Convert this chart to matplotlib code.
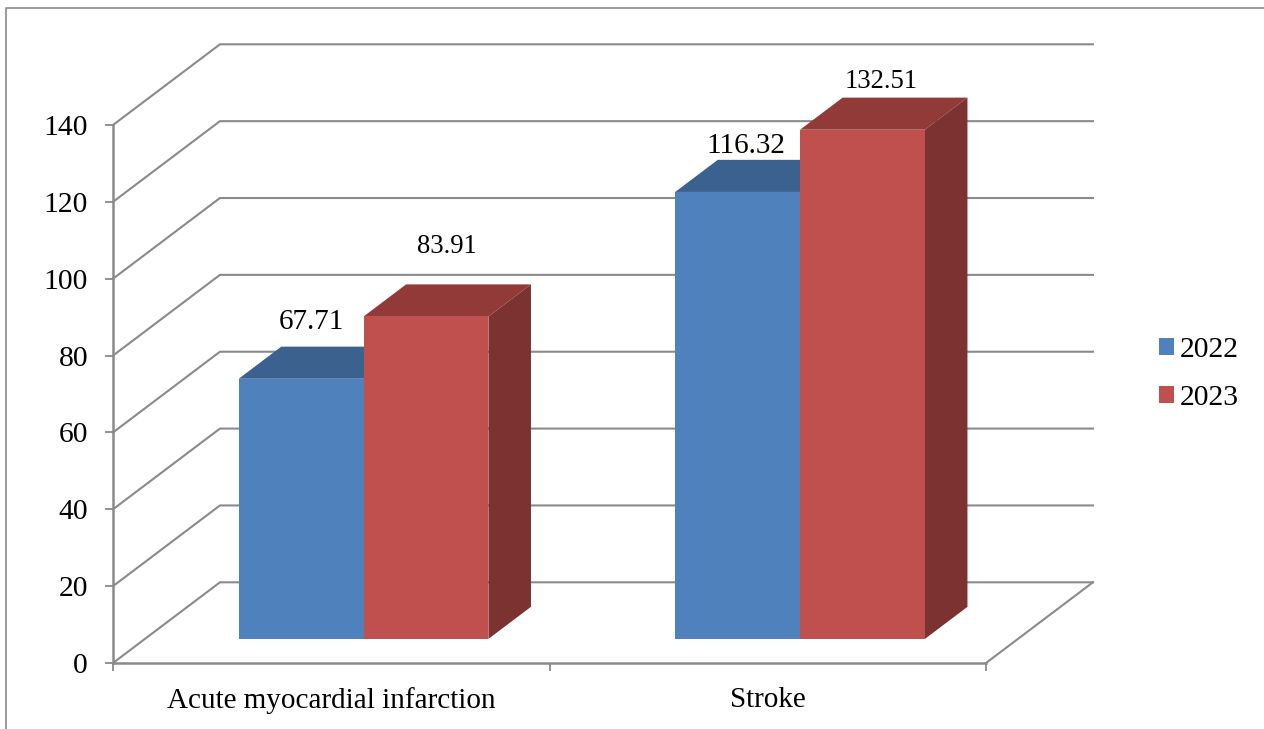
#!/usr/bin/env python3
# -*- coding: utf-8 -*-

import matplotlib
matplotlib.use("Agg")
import matplotlib.pyplot as plt
from matplotlib.lines import Line2D
from matplotlib.patches import Polygon

plt.rcParams['font.family'] = ['Liberation Serif', 'DejaVu Serif']

# Data

categories = ["Acute myocardial infarction", "Stroke"]
years = ["2022", "2023"]
values_2022 = [67.71, 116.32]
values_2023 = [83.91, 132.51]
y_ticks = [0, 20, 40, 60, 80, 100, 120, 140]

# Look of the fake 3D

DEPTH_X = 0.245   # wall depth, in category units
DEPTH_Y = 21.0    # wall depth, in value units
BAR_FRONT = 0.298 # where bars start, as a fraction of the depth
BAR_DEPTH = 0.398
BAR_WIDTH = 0.286
BAR_GAP = 0.215

GREY = "#8a8a8a"
FRONT = ["#4f81bd", "#c0504d"]
TOP = ["#3b618f", "#923a38"]
SIDE = ["#2f4f75", "#7b3230"]

# label offsets from the top of each bar (pixels) and sizes
LABEL_OFFSETS = [[(10, 57), (8, 46)], [(21, 70), (19, 48)]]
LABEL_SIZES = [[21, 21], [19.2, 19.2]]


fig = plt.figure(figsize=(12.64, 7.29), dpi=100)
ax = fig.add_axes([113 / 1264, (729 - 663) / 729, 873 / 1264, 538 / 729])
ax.set_xlim(0, 2)
ax.set_ylim(0, 140)

# Walls and floor

for tick in y_ticks:
    ax.plot([0, DEPTH_X, 2 + DEPTH_X],
            [tick, tick + DEPTH_Y, tick + DEPTH_Y],
            color=GREY, lw=1.5, clip_on=False, zorder=1)

ax.plot([2, 2 + DEPTH_X], [0, DEPTH_Y], color=GREY, lw=1.5, clip_on=False, zorder=1)

# Bars

for s, series in enumerate([values_2022, values_2023]):
    for c, value in enumerate(series):
        left = c + BAR_FRONT * DEPTH_X + BAR_GAP + s * BAR_WIDTH
        bottom = BAR_FRONT * DEPTH_Y
        right = left + BAR_WIDTH
        top = bottom + value
        dx = BAR_DEPTH * DEPTH_X
        dy = BAR_DEPTH * DEPTH_Y

        ax.add_patch(Polygon([(left, top), (right, top), (right + dx, top + dy), (left + dx, top + dy)],
                             closed=True, fc=TOP[s], ec="none", clip_on=False, zorder=3 + s))
        ax.add_patch(Polygon([(right, bottom), (right + dx, bottom + dy), (right + dx, top + dy), (right, top)],
                             closed=True, fc=SIDE[s], ec="none", clip_on=False, zorder=3 + s))
        ax.bar(left, value, BAR_WIDTH, bottom=bottom, align='edge', color=FRONT[s],
               label=years[s] if c == 0 else None, zorder=3 + s, clip_on=False)

        ax.annotate(f"{value:.2f}", xy=(left + BAR_WIDTH / 2, top),
                    xytext=LABEL_OFFSETS[s][c], textcoords='offset pixels',
                    ha='center', va='center', fontsize=LABEL_SIZES[s][c],
                    color="black", zorder=10)

# Axes

for side in ['top', 'right']:
    ax.spines[side].set_visible(False)
for side in ['left', 'bottom']:
    ax.spines[side].set_color(GREY)
    ax.spines[side].set_linewidth(1.8)
    ax.spines[side].set_zorder(2)

ax.set_yticks(y_ticks)
ax.set_xticks([0, 1, 2])
ax.set_xticklabels([])
ax.set_xticks([0.5, 1.5], minor=True)
ax.set_xticklabels(categories, minor=True)
ax.tick_params(axis='y', length=6, width=1.3, color=GREY, pad=12, labelsize=21.3)
ax.tick_params(axis='x', which='major', length=6, width=1.3, color=GREY)
ax.tick_params(axis='x', which='minor', length=0, pad=17, labelsize=21)

# Legend

ax.legend(loc='center left', bbox_to_anchor=(1159 / 1264, (729 - 374) / 729),
          bbox_transform=fig.transFigure, frameon=False, fontsize=21.3,
          handlelength=0.51, handleheight=0.51, handletextpad=0.2,
          labelspacing=0.77, borderpad=0, borderaxespad=0)

# Outer frame of the picture (only top and left are visible)

fig.add_artist(Line2D([6 / 1264, 6 / 1264, 1], [0, (729 - 8) / 729, (729 - 8) / 729],
                      color=GREY, lw=1.2))

fig.savefig("out.png", dpi=100, facecolor="white")
